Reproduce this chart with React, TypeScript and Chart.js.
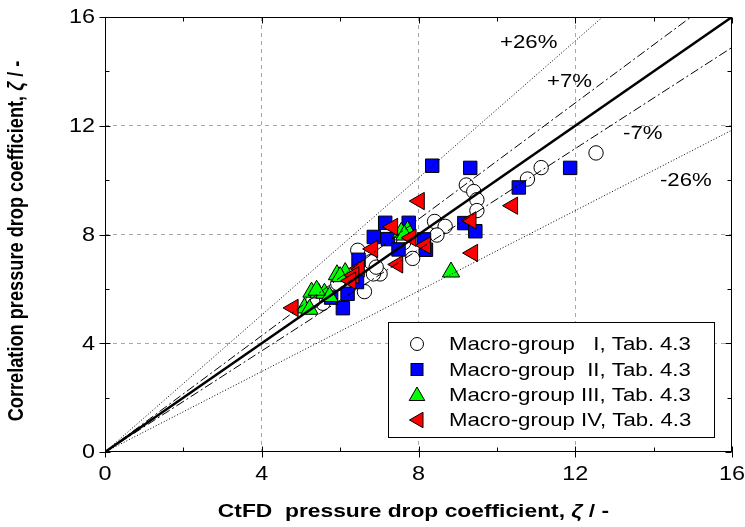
import React, { useEffect, useRef } from 'react';
import { Chart, registerables } from 'chart.js';

Chart.register(...registerables);

// ---- data (x = CtFD ζ, y = correlation ζ) ----
const groupI: [number, number][] = [
  [12.53, 11.0], [11.13, 10.46], [10.78, 10.04], [9.22, 9.82], [9.41, 9.58], [9.49, 9.28],
  [9.49, 8.88], [8.41, 8.48], [8.68, 8.3], [8.47, 7.98], [7.85, 7.12], [7.02, 6.55],
  [6.85, 6.55], [6.45, 7.42], [6.78, 7.0], [6.92, 6.8], [6.62, 5.9], [5.94, 6.2],
  [5.56, 5.47], [5.3, 5.55], [7.35, 7.85], [7.62, 7.7],
];
const groupII: [number, number][] = [
  [11.87, 10.45], [10.56, 9.73], [8.35, 10.53], [9.32, 10.45], [9.17, 8.42], [9.45, 8.12],
  [7.15, 8.43], [7.75, 8.43], [6.86, 7.91], [7.22, 7.83], [8.14, 7.82], [7.49, 7.45],
  [8.19, 7.44], [6.47, 7.07], [6.43, 6.25], [6.19, 5.82], [6.07, 5.29], [5.77, 5.68],
];
const groupIII: [number, number][] = [
  [7.56, 8.08], [7.72, 8.14], [7.64, 7.98], [8.83, 6.62], [5.92, 6.52], [6.13, 6.6],
  [6.0, 6.45], [5.27, 5.88], [5.45, 5.85], [5.6, 5.84], [5.73, 5.72], [5.09, 5.3],
  [5.22, 5.25], [5.4, 5.95],
];
const groupIV: [number, number][] = [
  [8.02, 9.23], [10.4, 9.06], [9.34, 8.52], [9.38, 7.32], [7.34, 8.28], [7.81, 7.88],
  [8.18, 7.6], [6.83, 7.47], [7.47, 6.9], [6.49, 6.76], [6.35, 6.5], [6.27, 6.3], [4.8, 5.3],
];

const legendLabels = [
  'Macro-group   I, Tab. 4.3',
  'Macro-group  II, Tab. 4.3',
  'Macro-group III, Tab. 4.3',
  'Macro-group IV, Tab. 4.3',
];

const refFactors = [1.26, 1.07, 1.0, 0.93, 0.74];
const refLabels = ['+26%', '+7%', '-7%', '-26%'];
const refLabelAnchors: [number, number][] = [[10.08, 15.04], [11.28, 13.6], [13.22, 11.7], [14.16, 9.97]];

const axisMin = 0;
const axisMax = 16;
const majorStep = 4;
const minorTicks = [2, 6, 10, 14];

const xTitleParts = ['CtFD  pressure drop coefficient, ', '\u03B6', ' / -'];
const yTitleParts = ['Correlation pressure drop coefficient, ', '\u03B6', ' / -'];

const FONT = '"Liberation Sans", Arial, sans-serif';
const SX = 1.2;

function sText(ctx: CanvasRenderingContext2D, text: string, x: number, y: number, align: CanvasTextAlign, font: string) {
  ctx.save();
  ctx.translate(x, y);
  ctx.scale(SX, 1);
  ctx.font = font;
  ctx.fillStyle = '#000';
  ctx.textAlign = align;
  ctx.textBaseline = 'middle';
  ctx.fillText(text, 0, 0);
  ctx.restore();
}

// draws parts centred at origin (already transformed), middle part italic
function partsText(ctx: CanvasRenderingContext2D, parts: string[], size: number) {
  const fonts = [`bold ${size}px ${FONT}`, `italic bold ${size}px ${FONT}`, `bold ${size}px ${FONT}`];
  let total = 0;
  const widths = parts.map((p, i) => {
    ctx.font = fonts[i];
    const w = ctx.measureText(p).width;
    total += w;
    return w;
  });
  let x = -total / 2;
  ctx.fillStyle = '#000';
  ctx.textAlign = 'left';
  ctx.textBaseline = 'middle';
  parts.forEach((p, i) => {
    ctx.font = fonts[i];
    ctx.fillText(p, x, 0);
    x += widths[i];
  });
}

function drawTri(ctx: CanvasRenderingContext2D, x: number, y: number, r: number, rotDeg: number, fill: string) {
  let rad = (rotDeg * Math.PI) / 180;
  ctx.beginPath();
  for (let i = 0; i < 3; i++) {
    const px = x + Math.sin(rad) * r;
    const py = y - Math.cos(rad) * r;
    if (i === 0) ctx.moveTo(px, py); else ctx.lineTo(px, py);
    rad += (2 * Math.PI) / 3;
  }
  ctx.closePath();
  ctx.fillStyle = fill;
  ctx.fill();
  ctx.stroke();
}

const decorPlugin = {
  id: 'decor',
  afterDraw(chart: any) {
    const ctx: CanvasRenderingContext2D = chart.ctx;
    const { left, right, top, bottom } = chart.chartArea;
    const xs = chart.scales.x;
    const ys = chart.scales.y;
    const L = Math.round(left) + 0.5;
    const R = Math.round(right) - 0.5;
    const T = Math.round(top) + 0.5;
    const B = Math.round(bottom) - 0.5;
    ctx.save();
    ctx.strokeStyle = '#000';
    ctx.lineWidth = 1;
    ctx.setLineDash([]);
    ctx.strokeRect(L, T, R - L, B - T);
    ctx.beginPath();
    xs.ticks.forEach((t: any) => {
      const px = Math.round(xs.getPixelForValue(t.value)) + 0.5;
      ctx.moveTo(px, B + 6); ctx.lineTo(px, B - 5);
      ctx.moveTo(px, T); ctx.lineTo(px, T + 6);
    });
    ys.ticks.forEach((t: any) => {
      const py = Math.round(ys.getPixelForValue(t.value)) + 0.5;
      ctx.moveTo(L - 6, py); ctx.lineTo(L + 5, py);
      ctx.moveTo(R, py); ctx.lineTo(R - 6, py);
    });
    minorTicks.forEach((v) => {
      const px = Math.round(xs.getPixelForValue(v)) + 0.5;
      ctx.moveTo(px, B); ctx.lineTo(px, B - 4);
      ctx.moveTo(px, T); ctx.lineTo(px, T + 4);
      const py = Math.round(ys.getPixelForValue(v)) + 0.5;
      ctx.moveTo(L, py); ctx.lineTo(L + 4, py);
      ctx.moveTo(R, py); ctx.lineTo(R - 4, py);
    });
    ctx.stroke();

    const tickFont = `19.5px ${FONT}`;
    xs.ticks.forEach((t: any) => {
      sText(ctx, String(t.value), xs.getPixelForValue(t.value), bottom + 23, 'center', tickFont);
    });
    ys.ticks.forEach((t: any) => {
      sText(ctx, String(t.value), left - 10, ys.getPixelForValue(t.value) + 1, 'right', tickFont);
    });

    // axis titles
    ctx.save();
    ctx.translate((left + right) / 2 - 5, bottom + 60);
    ctx.scale(SX, 1);
    partsText(ctx, xTitleParts, 19);
    ctx.restore();

    ctx.save();
    ctx.translate(17, 241);
    ctx.scale(SX, 1);
    ctx.rotate(-Math.PI / 2);
    partsText(ctx, yTitleParts, 18.2);
    ctx.restore();

    refLabels.forEach((lab, i) => {
      const [ax, ay] = refLabelAnchors[i];
      sText(ctx, lab, xs.getPixelForValue(ax), ys.getPixelForValue(ay), 'left', `18.5px ${FONT}`);
    });

    // legend
    const bx = 388.5, by = 322.5, bw = 326, bh = 115;
    ctx.fillStyle = '#fff';
    ctx.fillRect(bx, by, bw, bh);
    ctx.strokeStyle = '#000';
    ctx.strokeRect(bx, by, bw, bh);
    const rows = [344, 369.5, 394.5, 420];
    const mx = 417;
    ctx.beginPath();
    ctx.arc(mx, rows[0], 6.5, 0, Math.PI * 2);
    ctx.fillStyle = '#fff';
    ctx.fill();
    ctx.stroke();
    ctx.fillStyle = '#0000ff';
    ctx.fillRect(mx - 6, rows[1] - 6, 12, 12);
    ctx.strokeRect(mx - 6, rows[1] - 6, 12, 12);
    drawTri(ctx, mx, rows[2] + 1.5, 9, 0, '#00ff00');
    drawTri(ctx, mx + 1.5, rows[3], 9, -90, '#ff0000');
    legendLabels.forEach((lab, i) => {
      sText(ctx, lab, 449, rows[i] + 1, 'left', `18.5px ${FONT}`);
    });
    ctx.restore();
  },
};

const toPts = (arr: [number, number][]) => arr.map(([x, y]) => ({ x, y }));

export default function App() {
  const ref = useRef<HTMLCanvasElement | null>(null);
  useEffect(() => {
    if (!ref.current) return;
    const refDatasets = refFactors.map((k) => ({
      type: 'line' as const,
      data: [{ x: axisMin, y: axisMin * k }, { x: axisMax, y: axisMax * k }],
      borderColor: '#000',
      borderWidth: k === 1 ? 2.5 : 1,
      borderDash: k === 1 ? [] : Math.abs(k - 1) > 0.1 ? [1, 2] : [9, 3, 2, 3],
      pointRadius: 0,
      showLine: true,
      fill: false,
      order: 0,
    }));
    const scatterBase = { borderColor: '#000', borderWidth: 1, pointBorderWidth: 1 };
    const chart = new Chart(ref.current, {
      type: 'scatter',
      data: {
        datasets: [
          ...refDatasets,
          { ...scatterBase, label: legendLabels[3], data: toPts(groupIV), pointStyle: 'triangle', pointRotation: -90, pointRadius: 10, backgroundColor: '#ff0000', order: 1 },
          { ...scatterBase, label: legendLabels[2], data: toPts(groupIII), pointStyle: 'triangle', pointRadius: 10, backgroundColor: '#00ff00', order: 2 },
          { ...scatterBase, label: legendLabels[1], data: toPts(groupII), pointStyle: 'rect', pointRadius: 9.5, backgroundColor: '#0000ff', order: 3 },
          { ...scatterBase, label: legendLabels[0], data: toPts(groupI), pointStyle: 'circle', pointRadius: 7.2, backgroundColor: '#ffffff', order: 4 },
        ] as any,
      },
      options: {
        animation: false,
        responsive: false,
        devicePixelRatio: 1,
        layout: { padding: { top: 17, right: 13, left: 0, bottom: 0 } },
        plugins: { legend: { display: false }, tooltip: { enabled: false }, title: { display: false } },
        events: [],
        scales: {
          x: {
            type: 'linear',
            min: axisMin,
            max: axisMax,
            ticks: { stepSize: majorStep, display: false },
            grid: {
              color: (c: any) => (c.tick && (c.tick.value === axisMin || c.tick.value === axisMax) ? 'rgba(0,0,0,0)' : '#a8a8a8'),
              lineWidth: 1,
              drawTicks: false,
            },
            border: { display: false, dash: [4, 4] },
            afterFit: (s: any) => { s.height = 75; },
          },
          y: {
            type: 'linear',
            min: axisMin,
            max: axisMax,
            ticks: { stepSize: majorStep, display: false },
            grid: {
              color: (c: any) => (c.tick && (c.tick.value === axisMin || c.tick.value === axisMax) ? 'rgba(0,0,0,0)' : '#a8a8a8'),
              lineWidth: 1,
              drawTicks: false,
            },
            border: { display: false, dash: [4, 4] },
            afterFit: (s: any) => { s.width = 105; },
          },
        },
      } as any,
      plugins: [decorPlugin],
    });
    return () => chart.destroy();
  }, []);
  return (
    <div style={{ position: 'absolute', left: 0, top: 0, width: 745, height: 527, background: '#fff' }}>
      <canvas ref={ref} width={745} height={527} style={{ display: 'block' }} />
    </div>
  );
}
